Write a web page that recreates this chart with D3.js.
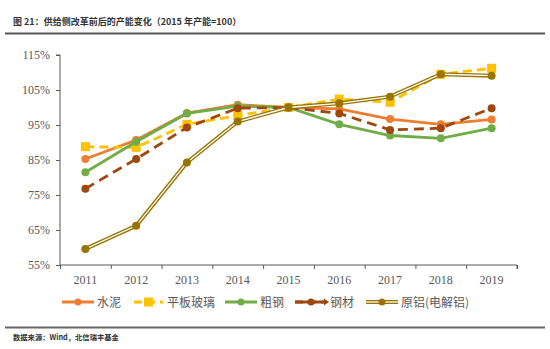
<!DOCTYPE html>
<html lang="zh-CN">
<head>
  <meta charset="utf-8">
  <title>产能变化</title>
  <script src="https://d3js.org/d3.v7.min.js"></script>
  <style>
    body { margin: 0; background: #fff; }
    .axis text { font: 12px "Liberation Serif", serif; fill: #595959; }
    .axis path, .axis line { stroke: #595959; }
  </style>
</head>
<body>
<div id="chart"></div>
<script>
"use strict"
// dados
var years = ["2011","2012","2013","2014","2015","2016","2017","2018","2019"];
var yTicks = [55, 65, 75, 85, 95, 105, 115];
var cement = [85.3, 90.7, 98.4, 100.8, 100, 99.6, 96.7, 95.2, 96.6];
var glass  = [88.8, 88.6, 95.2, 97.7, 100, 102.4, 101.5, 109.5, 111.2];
var steel  = [81.5, 90.2, 98.3, 100.4, 100, 95.2, 92.0, 91.2, 94.1];
var steelProducts = [76.8, 85.3, 94.3, 99.8, 100, 98.3, 93.6, 94.1, 99.8];
var aluminium = [59.6, 66.2, 84.3, 96.0, 100, 101.2, 103.1, 109.5, 109.1];
var names = ["水泥", "平板玻璃", "粗钢", "钢材", "原铝(电解铝)"];

var series = [
  {name: names[0], values: cement, color: "#ED7D31", dash: null, marker: "circle"},
  {name: names[1], values: glass, color: "#FFC000", dash: "9,5", marker: "square"},
  {name: names[2], values: steel, color: "#70AD47", dash: null, marker: "circle"},
  {name: names[3], values: steelProducts, color: "#9E480E", dash: "10,6", marker: "circle", arrow: true},
  {name: names[4], values: aluminium, color: "#997300", dash: null, marker: "circle", double: true}
];

var W = 550, H = 349;
var margin = {top: 55, left: 60, right: 33, bottom: 84};
var svg = d3.select("#chart").append("svg").attr("width", W).attr("height", H);

// titulo
svg.append("text").attr("x", 13).attr("y", 25)
  .style("font", "bold 9px 'Noto Sans CJK SC', sans-serif").style("fill", "#333")
  .text("图 21：供给侧改革前后的产能变化（2015 年产能=100）");
svg.append("line").attr("x1", 5).attr("x2", 545).attr("y1", 33.5).attr("y2", 33.5)
  .style("stroke", "#555").style("stroke-width", 2);

var x = d3.scaleBand().domain(years).range([margin.left, W - margin.right]);
var y = d3.scaleLinear().domain([55, 115]).range([H - margin.bottom, margin.top]);

var g = svg.append("g");

g.append("g").attr("class", "axis")
  .attr("transform", "translate(0," + (H - margin.bottom) + ")")
  .call(d3.axisBottom(x).tickSize(0).tickPadding(10))
  .call(a => a.select(".domain").remove());
// ticks entre categorias
g.append("g").attr("class", "axis")
  .attr("transform", "translate(0," + (H - margin.bottom) + ")")
  .call(d3.axisBottom(d3.scaleLinear().domain([0, 9]).range(x.range())).ticks(9).tickSize(4).tickFormat(""))
  .call(a => a.select(".domain").attr("d", "M" + margin.left + ",0H" + (W - margin.right) + "V4"));

g.append("g").attr("class", "axis")
  .attr("transform", "translate(" + margin.left + ",0)")
  .call(d3.axisLeft(y).tickValues(yTicks).tickSize(4).tickPadding(6).tickFormat(d => d + "%"))
  .call(a => a.select(".domain").attr("d", "M-4," + y(115) + "H0V" + y(55)));

var line = d3.line().x((d, i) => x(years[i]) + x.bandwidth() / 2).y(d => y(d));

series.forEach(function(s) {
  var sg = g.append("g");
  if (s.double) {
    sg.append("path").attr("d", line(s.values)).style("fill", "none")
      .style("stroke", s.color).style("stroke-width", 4);
    sg.append("path").attr("d", line(s.values)).style("fill", "none")
      .style("stroke", "#fff").style("stroke-width", 1.3);
  } else {
    sg.append("path").attr("d", line(s.values)).style("fill", "none")
      .style("stroke", s.color).style("stroke-width", 2.8)
      .style("stroke-dasharray", s.dash);
  }
  s.values.forEach(function(v, i) {
    var cx = x(years[i]) + x.bandwidth() / 2, cy = y(v);
    if (s.marker === "square") {
      sg.append("rect").attr("x", cx - 4.5).attr("y", cy - 4.5).attr("width", 9).attr("height", 9).style("fill", s.color);
    } else {
      sg.append("circle").attr("cx", cx).attr("cy", cy).attr("r", 4).style("fill", s.color);
    }
  });
});

// legenda
var legendX = [62, 134, 225, 295, 366];
var ly = 302;
series.forEach(function(s, i) {
  var lg = svg.append("g").attr("transform", "translate(" + legendX[i] + "," + ly + ")");
  var len = 32;
  if (s.double) {
    lg.append("line").attr("x1", 0).attr("x2", len).style("stroke", s.color).style("stroke-width", 4);
    lg.append("line").attr("x1", 0).attr("x2", len).style("stroke", "#fff").style("stroke-width", 1.3);
  } else if (s.dash) {
    lg.append("line").attr("x1", 0).attr("x2", 29).style("stroke", s.color).style("stroke-width", 3)
      .style("stroke-dasharray", "8,5");
  } else {
    lg.append("line").attr("x1", 0).attr("x2", len).style("stroke", s.color).style("stroke-width", 3);
  }
  if (s.arrow) {
    lg.append("line").attr("x1", 0).attr("x2", 30).style("stroke", s.color).style("stroke-width", 3);
    lg.append("path").attr("d", "M29,-3.5L34,0L29,3.5Z").style("fill", s.color);
  }
  var mx = s.dash && !s.arrow ? 14.5 : len / 2;
  if (s.marker === "square") {
    lg.append("rect").attr("x", mx - 4.5).attr("y", -4.5).attr("width", 9).attr("height", 9).style("fill", s.color);
  } else {
    lg.append("circle").attr("cx", mx).attr("cy", 0).attr("r", 3.5).style("fill", s.color);
  }
  lg.append("text").attr("x", s.dash && !s.arrow ? 33 : 35).attr("y", 4.5)
    .style("font", "12px 'Noto Sans CJK SC', sans-serif").style("fill", "#595959")
    .text(s.name);
});

svg.append("line").attr("x1", 5).attr("x2", 545).attr("y1", 327.5).attr("y2", 327.5)
  .style("stroke", "#666").style("stroke-width", 2);
svg.append("text").attr("x", 13).attr("y", 340)
  .style("font", "bold 7.3px 'Noto Sans CJK SC', sans-serif").style("fill", "#333")
  .text("数据来源：Wind，北信瑞丰基金");
</script>
</body>
</html>
